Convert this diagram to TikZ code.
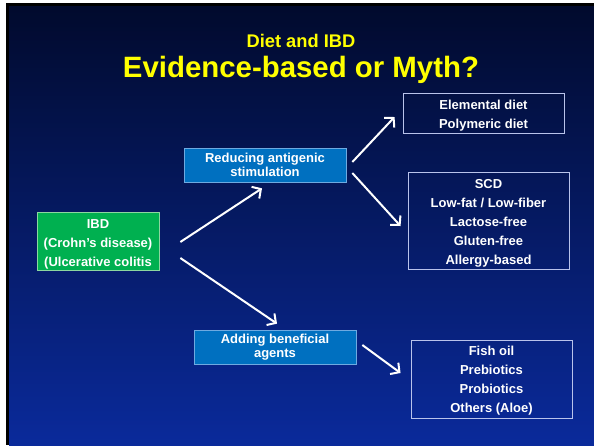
\documentclass[tikz,border=0pt]{standalone}
\usepackage{fontspec}
\setmainfont{Liberation Sans}
\usetikzlibrary{arrows.meta}
\definecolor{bgtop}{RGB}{1,10,45}
\definecolor{bgbot}{RGB}{10,42,155}
\definecolor{ttl}{RGB}{255,255,0}
\definecolor{grn}{RGB}{0,176,80}
\definecolor{grnb}{RGB}{140,215,160}
\definecolor{blu}{RGB}{0,112,192}
\definecolor{blub}{RGB}{110,170,225}
\definecolor{outl}{RGB}{185,195,235}
\newcommand\topstrut{\rule{0pt}{14pt}}
\tikzset{
  txt/.style={text=white,font=\bfseries\fontsize{13}{19}\selectfont,align=center,inner sep=0pt},
  listbox/.style={txt,draw=outl,line width=0.9pt,minimum width=161pt},
  greenbox/.style={txt,fill=grn,draw=grnb,line width=0.7pt,minimum width=122pt,minimum height=58pt},
  bluebox/.style={txt,font=\bfseries\fontsize{13}{13.5}\selectfont,fill=blu,draw=blub,line width=0.7pt,minimum width=162pt,minimum height=34pt},
  arr/.style={white,line width=2pt,-{Straight Barb[length=6.5pt,width=14pt]}}
}
\begin{document}
\begin{tikzpicture}[x=1pt,y=-1pt]
\useasboundingbox (0,0) rectangle (594,445);
\fill[white] (0,0) rectangle (594,445);
\fill[black] (6,3) rectangle (594,445);
\shade[top color=bgtop,bottom color=bgbot] (9,6) rectangle (594,445);
\node[text=ttl,font=\bfseries\fontsize{18.3}{20}\selectfont,inner sep=0pt] (t1) at (301,40.5) {Diet and IBD};
\node[text=ttl,font=\bfseries\fontsize{29.4}{32}\selectfont,inner sep=0pt] (t2) at (301,69.5) {Evidence-based or Myth?};
\node[greenbox] (ibd) at (98,241.5) {\topstrut IBD\\(Crohn’s disease)\\(Ulcerative colitis};
\node[bluebox] (red) at (265,165) {Reducing antigenic\\stimulation};
\node[bluebox] (add) at (275,347) {Adding beneficial\\agents};
\node[listbox,minimum height=40pt] (elem) at (483.5,113) {\topstrut Elemental diet\\Polymeric diet};
\node[listbox,minimum height=97pt] (scd) at (488.5,220.5) {\topstrut SCD\\Low-fat / Low-fiber\\Lactose-free\\Gluten-free\\Allergy-based};
\node[listbox,minimum height=78pt] (fish) at (491.5,379) {\rule{0pt}{13pt}Fish oil\\Prebiotics\\Probiotics\\Others (Aloe)};
\draw[arr] ([shift={(21,0.5)}]ibd.east) -- ([shift={(-3,6)}]red.south);
\draw[arr] ([shift={(21,16.5)}]ibd.east) -- ([shift={(2,-6)}]add.north);
\draw[arr] ([shift={(6,-3)}]red.east) -- ([shift={(-8,4)}]elem.west);
\draw[arr] ([shift={(6,8)}]red.east) -- ([shift={(-7,5.5)}]scd.west);
\draw[arr] ([shift={(6,-2)}]add.east) -- ([shift={(-10,-6)}]fish.west);
\end{tikzpicture}
\end{document}
